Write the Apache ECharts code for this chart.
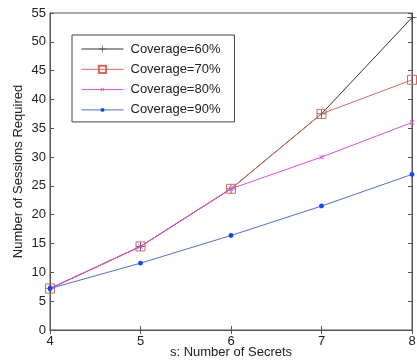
<!DOCTYPE html>
<html><head><meta charset="utf-8">
<script src="https://cdn.jsdelivr.net/npm/echarts@6/dist/echarts.min.js"></script>
<style>html,body{margin:0;padding:0;background:#fff}#c{width:417px;height:363px}</style>
</head><body><div id="c"></div>
<script>
const secrets = [4, 5, 6, 7, 8];
const cov60 = [7.2, 14.5, 24.5, 37.5, 54.2];
const cov70 = [7.2, 14.5, 24.5, 37.5, 43.4];
const cov80 = [7.2, 14.5, 24.5, 30.0, 36.0];
const cov90 = [7.2, 11.6, 16.4, 21.5, 27.0];
const seriesNames = ['Coverage=60%', 'Coverage=70%', 'Coverage=80%', 'Coverage=90%'];
const yTicks = [0, 55, 5];

const corners = 'M0,0h0.01v0.01h-0.01Z M10,10h0.01v0.01h-0.01Z ';
const plus = 'path://M4.6,0H5.4V4.6H10V5.4H5.4V10H4.6V5.4H0V4.6H4.6Z';
const cross = 'path://' + corners + 'M2.91,2.25L5,4.34L7.09,2.25L7.75,2.91L5.66,5L7.75,7.09L7.09,7.75L5,5.66L2.91,7.75L2.25,7.09L4.34,5L2.25,2.91Z';
const dot = 'path://' + corners + 'M5,2.25A2.75,2.75 0 1 1 4.999,2.25Z';
const font = 'Liberation Sans, Arial, Helvetica, sans-serif';
const axisCol = '#555';

function pairs(vals){ return secrets.map((s,i)=>[s, vals[i]]); }

const chart = echarts.init(document.getElementById('c'), null, {renderer:'canvas'});
const axisCommon = {
  axisLine:{show:true, lineStyle:{color:axisCol, width:1}},
  axisTick:{show:true, inside:true, length:4, lineStyle:{color:axisCol}},
  splitLine:{show:false}
};
chart.setOption({
  animation:false,
  textStyle:{fontFamily:font},
  grid:{left:50, right:5, top:13, bottom:33, show:true, borderColor:axisCol, borderWidth:1,
    containLabel:false, outerBoundsMode:'none'},
  legend:{
    orient:'vertical', left:72, top:35,
    backgroundColor:'#fff', borderColor:'#444', borderWidth:1,
    padding:[7, 14, 5, 9], itemGap:6.3, itemWidth:42, itemHeight:9,
    lineStyle:{width:1},
    textStyle:{fontSize:13, lineHeight:14, color:'#222', fontFamily:font, padding:[0,0,0,2]},
    data: seriesNames
  },
  xAxis:[
    Object.assign({type:'value', min:secrets[0], max:secrets[secrets.length-1], interval:1,
      name:'s: Number of Secrets', nameLocation:'middle', nameGap:16, nameMoveOverlap:false,
      nameTextStyle:{fontSize:13, color:'#222'},
      axisLabel:{fontSize:13, color:'#222', margin:5}}, axisCommon),
    Object.assign({type:'value', position:'top', min:secrets[0], max:secrets[secrets.length-1], interval:1,
      axisLabel:{show:false}}, axisCommon)
  ],
  yAxis:[
    Object.assign({type:'value', min:yTicks[0], max:yTicks[1], interval:yTicks[2],
      name:'Number of Sessions Required', nameLocation:'middle', nameGap:25, nameMoveOverlap:false,
      nameTextStyle:{fontSize:13, color:'#222'},
      axisLabel:{fontSize:13, color:'#222', margin:4}}, axisCommon),
    Object.assign({type:'value', position:'right', min:yTicks[0], max:yTicks[1], interval:yTicks[2],
      axisLabel:{show:false}}, axisCommon)
  ],
  series:[
    {name:seriesNames[0], type:'line', data:pairs(cov60), symbol:plus, symbolSize:9,
      lineStyle:{color:'#333', width:1}, itemStyle:{color:'#333'}, z:1},
    {name:seriesNames[1], type:'line', data:pairs(cov70), symbol:'rect', symbolSize:9,
      lineStyle:{color:'#d9665f', width:1}, itemStyle:{color:'rgba(255,255,255,0)', borderColor:'#d9665f', borderWidth:1}, z:2},
    {name:seriesNames[2], type:'line', data:pairs(cov80), symbol:cross, symbolSize:9,
      lineStyle:{color:'#e050d8', width:1}, itemStyle:{color:'#e050d8'}, z:3},
    {name:seriesNames[3], type:'line', data:pairs(cov90), symbol:dot, symbolSize:9,
      lineStyle:{color:'#4a72d0', width:1}, itemStyle:{color:'#1448f0'}, z:4}
  ]
});
</script></body></html>
